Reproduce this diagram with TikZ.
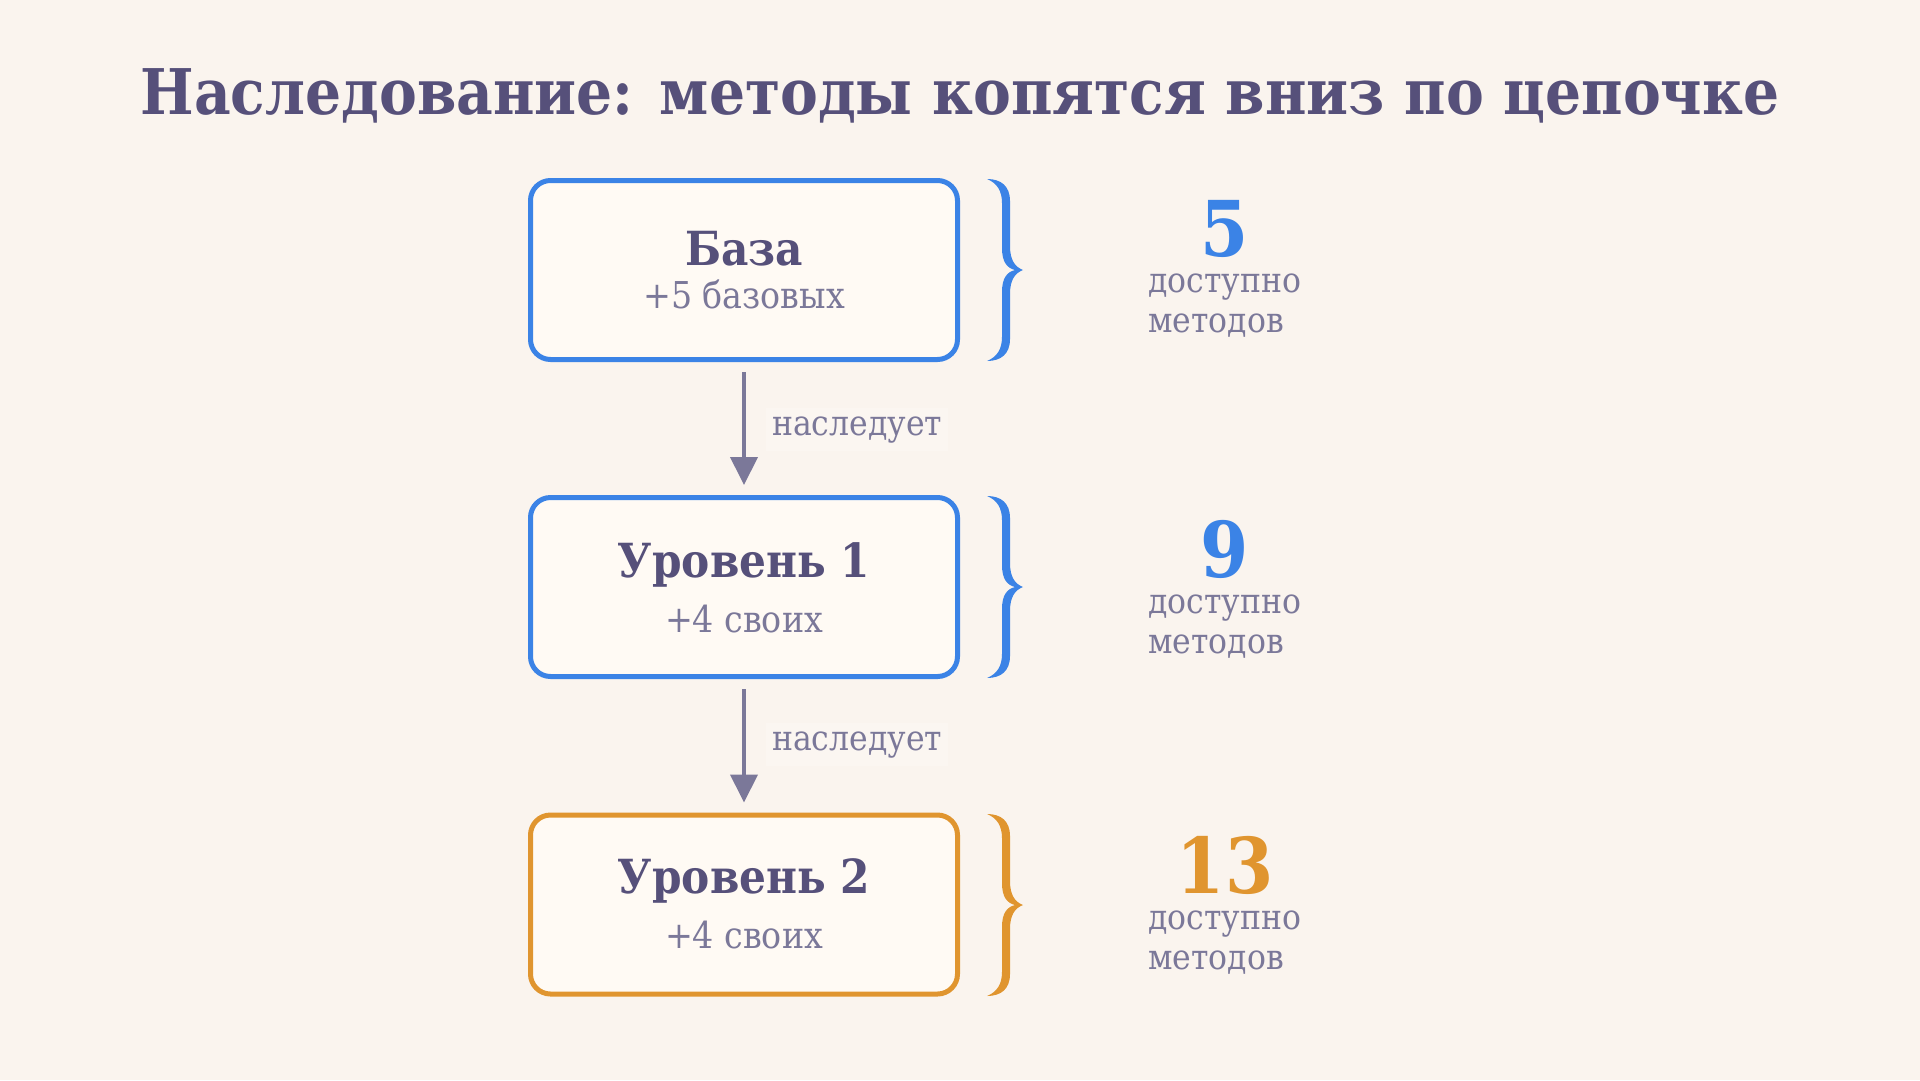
\documentclass[tikz,border=0pt]{standalone}
\usepackage{fontspec}
\setmainfont{DejaVu Serif Condensed}
\usetikzlibrary{arrows.meta,calc}
\definecolor{bgc}{HTML}{FAF4EE}
\definecolor{boxfill}{HTML}{FFFAF4}
\definecolor{titlec}{HTML}{56507A}
\definecolor{bluec}{HTML}{3B83E6}
\definecolor{orangec}{HTML}{E0952F}
\definecolor{grayc}{HTML}{7B7899}
\definecolor{lblbg}{HTML}{FBF6F1}
\tikzset{
  x=1pt,y=-1pt,
  boxnode/.style={draw=#1,fill=boxfill,line width=5pt,rounded corners=20pt,
    minimum width=427pt,minimum height=179pt,inner sep=0pt},
  boxtitle/.style={anchor=base,text=titlec,inner sep=0pt,font=\fontsize{47}{56}\selectfont\bfseries},
  boxsub/.style={anchor=base,text=grayc,inner sep=0pt,font=\fontsize{37}{42}\selectfont},
  arr/.style={draw=grayc,line width=4pt,-{Triangle[length=28pt,width=27pt]},shorten <=10pt,shorten >=10pt},
  lbl/.style={anchor=base west,text=grayc,fill=lblbg,inner xsep=6pt,inner ysep=8pt,font=\fontsize{35}{40}\selectfont},
  numstyle/.style={anchor=base,text=#1,inner sep=0pt,font=\fontsize{77}{90}\selectfont\bfseries},
  desc/.style={anchor=base west,text=grayc,inner sep=0pt,font=\fontsize{35}{40}\selectfont},
  pics/curlybrace/.style={code={
    \fill[#1] (0,0)
      .. controls (14,0) and (23,7) .. (23,22)
      -- (23,67)
      .. controls (23,81) and (28,88) .. (36,91)
      .. controls (28,94) and (23,101) .. (23,115)
      -- (23,160)
      .. controls (23,175) and (14,182) .. (0,182)
      .. controls (10,178) and (15,170) .. (15,158)
      -- (15,113)
      .. controls (15,99) and (20,93) .. (28,91)
      .. controls (20,89) and (15,83) .. (15,69)
      -- (15,24)
      .. controls (15,12) and (10,4) .. (0,0) -- cycle;
  }},
}
\begin{document}
\begin{tikzpicture}
\useasboundingbox (0,0) rectangle (1920,1080);
\fill[bgc] (0,0) rectangle (1920,1080);
\node[anchor=base,text=titlec,inner sep=0pt,font=\fontsize{63}{75}\selectfont\bfseries] (title) at (960,114) {Наследование: методы копятся вниз по цепочке};
% boxes
\node[boxnode=bluec] (b1) at (744,270) {};
\node[boxnode=bluec] (b2) at (744,587) {};
\node[boxnode=orangec] (b3) at (744,904.5) {};
\node[boxtitle] (t1) at (744,265) {База};
\node[boxsub] (s1) at (744,308) {+5 базовых};
\node[boxtitle] (t2) at (744,577) {Уровень 1};
\node[boxsub] (s2) at (744,632) {+4 своих};
\node[boxtitle] (t3) at (744,893) {Уровень 2};
\node[boxsub] (s3) at (744,948) {+4 своих};
% arrows
\draw[arr] (b1.south) -- (b2.north);
\draw[arr] (b2.south) -- (b3.north);
\node[lbl] (l1) at (766,435) {наследует};
\node[lbl] (l2) at (766,750) {наследует};
% braces
\pic at (987,179) {curlybrace=bluec};
\pic at (987,496) {curlybrace=bluec};
\pic at (987,814) {curlybrace=orangec};
% counts
\node[numstyle=bluec] (n1) at (1225,256) {5};
\node[desc] (d1a) at (1148,292) {доступно};
\node[desc] (d1b) at (1148,332) {методов};
\node[numstyle=bluec] (n2) at (1225,577) {9};
\node[desc] (d2a) at (1148,613) {доступно};
\node[desc] (d2b) at (1148,653) {методов};
\node[numstyle=orangec] (n3) at (1225,893) {13};
\node[desc] (d3a) at (1148,929) {доступно};
\node[desc] (d3b) at (1148,969) {методов};
\end{tikzpicture}
\end{document}
